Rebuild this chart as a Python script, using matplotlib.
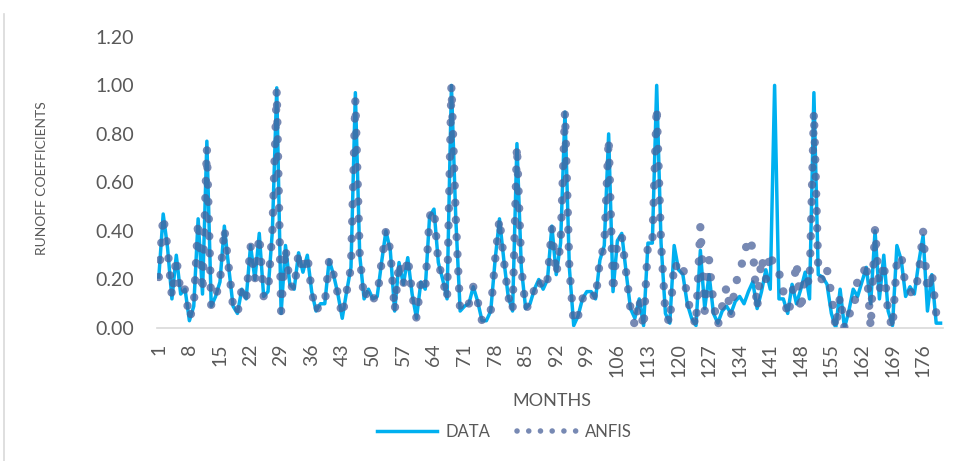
import matplotlib.pyplot as plt
from matplotlib.lines import Line2D
import numpy as np

plt.rcParams['font.family'] = ['Lato', 'DejaVu Sans']

# monthly runoff coefficients, observed
data_runoff = [
    0.21, 0.47, 0.33, 0.12, 0.30, 0.14, 0.16, 0.03, 0.09, 0.45,
    0.14, 0.77, 0.09, 0.13, 0.19, 0.42, 0.25, 0.09, 0.06, 0.16,
    0.12, 0.34, 0.20, 0.39, 0.13, 0.15, 0.40, 0.99, 0.06, 0.34,
    0.18, 0.16, 0.31, 0.23, 0.30, 0.15, 0.07, 0.10, 0.10, 0.28,
    0.22, 0.14, 0.04, 0.15, 0.25, 0.97, 0.30, 0.12, 0.16, 0.12,
    0.13, 0.27, 0.40, 0.32, 0.07, 0.27, 0.18, 0.29, 0.14, 0.04,
    0.19, 0.16, 0.46, 0.49, 0.27, 0.20, 0.12, 1.00, 0.45, 0.07,
    0.09, 0.10, 0.17, 0.11, 0.03, 0.03, 0.07, 0.28, 0.45, 0.28,
    0.13, 0.07, 0.76, 0.25, 0.08, 0.10, 0.16, 0.20, 0.16, 0.20,
    0.42, 0.22, 0.35, 0.89, 0.25, 0.01, 0.05, 0.12, 0.15, 0.15,
    0.12, 0.28, 0.34, 0.80, 0.15, 0.36, 0.39, 0.23, 0.08, 0.04,
    0.12, 0.01, 0.35, 0.35, 1.00, 0.35, 0.06, 0.02, 0.34, 0.24,
    0.22, 0.10, 0.04, 0.01, 0.32, 0.08, 0.22, 0.06, 0.02, 0.07,
    0.09, 0.06, 0.11, 0.13, 0.10, 0.15, 0.19, 0.08, 0.15, 0.24,
    0.16, 1.00, 0.12, 0.12, 0.06, 0.18, 0.10, 0.16, 0.23, 0.12,
    0.97, 0.22, 0.21, 0.18, 0.06, 0.00, 0.16, 0.00, 0.07, 0.16,
    0.13, 0.19, 0.25, 0.10, 0.40, 0.12, 0.30, 0.07, 0.01, 0.34,
    0.28, 0.13, 0.17, 0.14, 0.27, 0.38, 0.07, 0.22, 0.02, 0.02,
]

# ANFIS model output
anfis_runoff = [
    0.21, 0.46, 0.33, 0.13, 0.29, 0.14, 0.16, 0.04, 0.09, 0.44,
    0.15, 0.74, 0.09, 0.13, 0.19, 0.41, 0.25, 0.09, 0.06, 0.16,
    0.12, 0.34, 0.20, 0.38, 0.13, 0.15, 0.40, 0.98, 0.07, 0.33,
    0.18, 0.16, 0.31, 0.23, 0.30, 0.15, 0.07, 0.10, 0.10, 0.28,
    0.22, 0.14, 0.05, 0.15, 0.25, 0.94, 0.30, 0.12, 0.16, 0.12,
    0.13, 0.27, 0.40, 0.32, 0.07, 0.27, 0.18, 0.29, 0.14, 0.04,
    0.19, 0.16, 0.46, 0.49, 0.27, 0.20, 0.12, 1.00, 0.45, 0.07,
    0.09, 0.10, 0.17, 0.11, 0.03, 0.03, 0.07, 0.28, 0.45, 0.28,
    0.13, 0.07, 0.75, 0.25, 0.08, 0.10, 0.16, 0.20, 0.16, 0.20,
    0.41, 0.22, 0.35, 0.89, 0.25, 0.02, 0.05, 0.12, 0.15, 0.15,
    0.12, 0.28, 0.34, 0.78, 0.15, 0.36, 0.38, 0.23, 0.08, 0.01,
    0.12, 0.00, 0.35, 0.35, 0.91, 0.35, 0.06, 0.02, 0.27, 0.24,
    0.26, 0.12, 0.06, 0.01, 0.42, 0.07, 0.28, 0.10, 0.01, 0.09,
    0.17, 0.05, 0.18, 0.23, 0.30, 0.37, 0.33, 0.08, 0.29, 0.20,
    0.31, 0.24, 0.23, 0.15, 0.05, 0.13, 0.27, 0.07, 0.22, 0.18,
    0.89, 0.24, 0.19, 0.24, 0.14, 0.00, 0.13, 0.00, 0.06, 0.06,
    0.20, 0.20, 0.27, 0.00, 0.41, 0.15, 0.27, 0.06, 0.00, 0.28,
    0.30, 0.17, 0.15, 0.14, 0.22, 0.40, 0.15, 0.23, 0.06, np.nan,
]

months = np.arange(1, len(data_runoff) + 1)
month_ticks = months[::7]
y_ticks = [0.0, 0.2, 0.4, 0.6, 0.8, 1.0, 1.2]

data_color = '#00B0F0'
anfis_color = '#4A619A'
text_color = '#595959'

fig = plt.figure(figsize=(9.61, 4.61), dpi=100)
ax = fig.add_axes([0.163, 0.2885, 0.818, 0.6315])

ax.plot(months, data_runoff, color=data_color, lw=2.5, solid_joinstyle='round', zorder=2)
ax.plot(months, anfis_runoff, color=anfis_color, alpha=0.75, lw=6.0,
        linestyle=(0, (0.01, 2.05)), dash_capstyle='round', zorder=3)

ax.set_xlim(0.5, len(months) + 0.5)
ax.set_ylim(0, 1.2)
ax.set_yticks(y_ticks)
ax.set_yticklabels([f'{v:.2f}' for v in y_ticks])
ax.set_xticks(month_ticks)
ax.set_xticklabels([str(m) for m in month_ticks], rotation=90)

ax.tick_params(axis='both', length=0, labelsize=14, colors=text_color)
ax.tick_params(axis='x', pad=11)
ax.tick_params(axis='y', pad=16)

for side in ['left', 'right', 'top']:
    ax.spines[side].set_visible(False)
ax.spines['bottom'].set_color('#D9D9D9')
ax.spines['bottom'].set_linewidth(1.2)

fig.text(0.574, 0.13, 'MONTHS', ha='center', va='center', fontsize=13, color=text_color)
fig.text(0.044, 0.614, 'RUNOFF COEFFICIENTS', ha='center', va='center',
         rotation=90, fontsize=10, color=text_color)

# chart frame edge on the left
fig.add_artist(Line2D([0.004, 0.004], [0.0, 0.97], transform=fig.transFigure,
                      color='#D9D9D9', lw=1.2))

handles = [
    Line2D([], [], color=data_color, lw=2.5),
    Line2D([], [], color=anfis_color, alpha=0.75, lw=4.0,
           linestyle=(0, (0.01, 2.1)), dash_capstyle='round'),
]
fig.legend(handles, ['DATA', 'ANFIS'], loc='center', bbox_to_anchor=(0.525, 0.063),
           ncol=2, frameon=False, fontsize=12, handlelength=3.6, handletextpad=0.5,
           columnspacing=1.6, labelcolor=text_color)

fig.savefig('out.png', dpi=100)
